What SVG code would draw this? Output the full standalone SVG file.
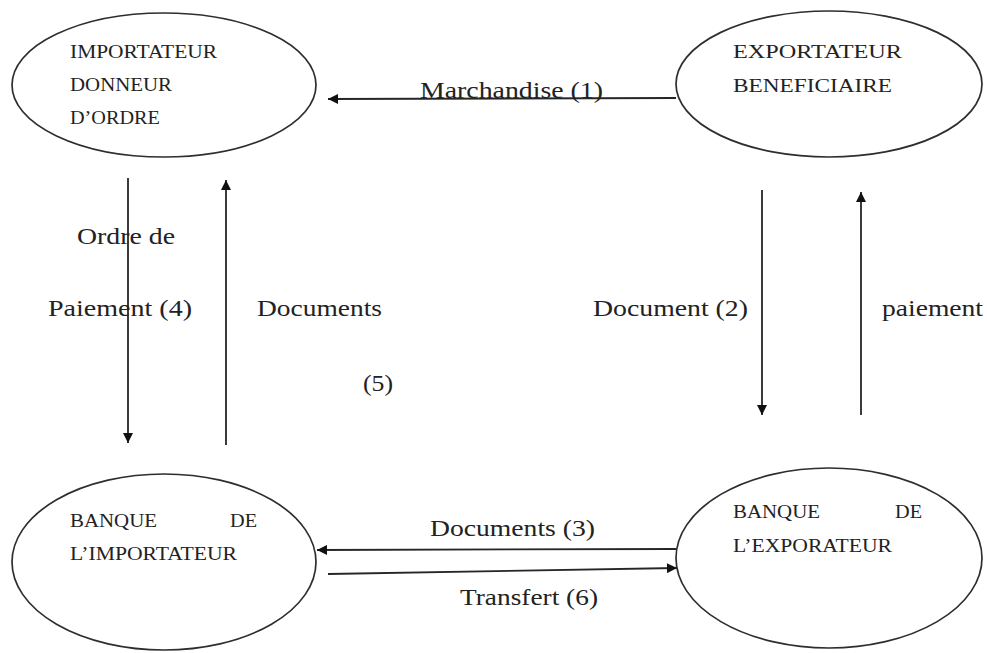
<svg xmlns="http://www.w3.org/2000/svg" width="987" height="653" viewBox="0 0 987 653">
  <style>
    .node { fill: #ffffff; stroke: #2e2e2e; stroke-width: 1.7; }
    .ntext { font-family: "Liberation Serif", "Times New Roman", serif; font-size: 19px; fill: #222222; }
    .ltext { font-family: "Liberation Serif", "Times New Roman", serif; font-size: 23px; fill: #222222; }
    .edge { fill: none; stroke: #262626; stroke-width: 1.8; marker-end: url(#arrow); }
  </style>
  <defs>
    <marker id="arrow" viewBox="0 0 10 10" refX="10" refY="5" markerWidth="11" markerHeight="10" markerUnits="userSpaceOnUse" orient="auto">
      <path d="M0,0 L10,5 L0,10 Z" fill="#111111"/>
    </marker>
  </defs>
  <rect width="987" height="653" fill="#ffffff"/>

  <!-- connectors and their labels -->
  <g id="connectors">
    <line class="edge" x1="676" y1="98" x2="328" y2="99"/>
    <line class="edge" x1="128" y1="178" x2="128" y2="443"/>
    <line class="edge" x1="226" y1="445" x2="226" y2="180"/>
    <line class="edge" x1="762" y1="190" x2="762" y2="415"/>
    <line class="edge" x1="861" y1="415" x2="861" y2="192"/>
    <line class="edge" x1="676" y1="549" x2="317" y2="550"/>
    <line class="edge" x1="328" y1="574" x2="677" y2="568"/>
    <text class="ltext" x="420" y="98" textLength="183" lengthAdjust="spacingAndGlyphs">Marchandise (1)</text>
    <text class="ltext" x="77" y="244" textLength="98" lengthAdjust="spacingAndGlyphs">Ordre de</text>
    <text class="ltext" x="48" y="316" textLength="144" lengthAdjust="spacingAndGlyphs">Paiement (4)</text>
    <text class="ltext" x="257" y="316" textLength="125" lengthAdjust="spacingAndGlyphs">Documents</text>
    <text class="ltext" x="363" y="391" textLength="30" lengthAdjust="spacingAndGlyphs">(5)</text>
    <text class="ltext" x="593" y="316" textLength="155" lengthAdjust="spacingAndGlyphs">Document (2)</text>
    <text class="ltext" x="882" y="316" textLength="101" lengthAdjust="spacingAndGlyphs">paiement</text>
    <text class="ltext" x="430" y="536" textLength="165" lengthAdjust="spacingAndGlyphs">Documents (3)</text>
    <text class="ltext" x="460" y="605" textLength="138" lengthAdjust="spacingAndGlyphs">Transfert (6)</text>
  </g>

  <!-- importer -->
  <g id="importateur">
    <ellipse class="node" cx="164" cy="85" rx="152" ry="72"/>
    <text class="ntext" x="70" y="58" textLength="147" lengthAdjust="spacingAndGlyphs">IMPORTATEUR</text>
    <text class="ntext" x="70" y="91" textLength="102" lengthAdjust="spacingAndGlyphs">DONNEUR</text>
    <text class="ntext" x="70" y="124" textLength="90" lengthAdjust="spacingAndGlyphs">D’ORDRE</text>
  </g>

  <!-- exporter -->
  <g id="exportateur">
    <ellipse class="node" cx="829" cy="84" rx="153" ry="73"/>
    <text class="ntext" x="733" y="58" textLength="169" lengthAdjust="spacingAndGlyphs">EXPORTATEUR</text>
    <text class="ntext" x="733" y="92" textLength="159" lengthAdjust="spacingAndGlyphs">BENEFICIAIRE</text>
  </g>

  <!-- importer's bank -->
  <g id="banque-importateur">
    <ellipse class="node" cx="164" cy="562" rx="152" ry="88"/>
    <text class="ntext" x="70" y="527" textLength="87" lengthAdjust="spacingAndGlyphs">BANQUE</text>
    <text class="ntext" x="230" y="527" textLength="27" lengthAdjust="spacingAndGlyphs">DE</text>
    <text class="ntext" x="70" y="560" textLength="167" lengthAdjust="spacingAndGlyphs">L’IMPORTATEUR</text>
  </g>

  <!-- exporter's bank -->
  <g id="banque-exportateur">
    <ellipse class="node" cx="829" cy="558" rx="153" ry="90"/>
    <text class="ntext" x="733" y="518" textLength="87" lengthAdjust="spacingAndGlyphs">BANQUE</text>
    <text class="ntext" x="895" y="518" textLength="27" lengthAdjust="spacingAndGlyphs">DE</text>
    <text class="ntext" x="733" y="552" textLength="159" lengthAdjust="spacingAndGlyphs">L’EXPORATEUR</text>
  </g>
</svg>
